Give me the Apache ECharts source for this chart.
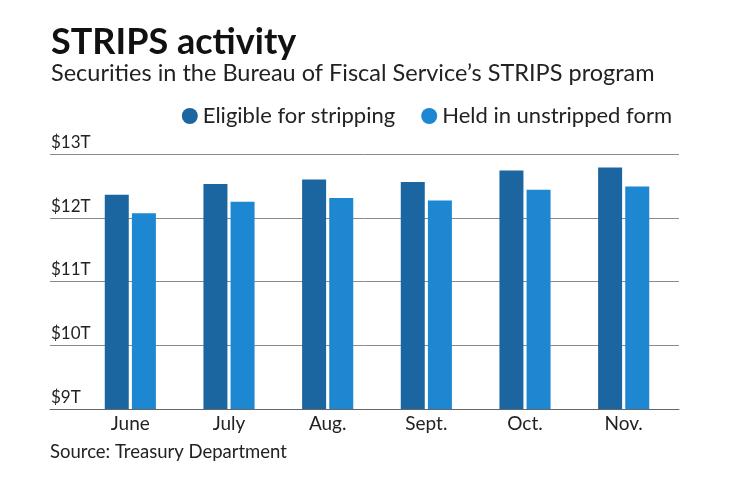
<!DOCTYPE html>
<html>
<head>
<meta charset="utf-8">
<script src="https://cdn.jsdelivr.net/npm/echarts@6/dist/echarts.min.js"></script>
<style>
  html, body { margin: 0; padding: 0; background: #fff; }
  #chart { width: 740px; height: 482px; }
</style>
</head>
<body>
<div id="chart"></div>
<script>
// data (trillions of dollars)
var months = ['June', 'July', 'Aug.', 'Sept.', 'Oct.', 'Nov.'];
var eligible = [12.36, 12.53, 12.60, 12.56, 12.74, 12.79];
var unstripped = [12.07, 12.25, 12.31, 12.27, 12.44, 12.49];
var seriesNames = ['Eligible for stripping', 'Held in unstripped form'];
var yMin = 9, yMax = 13, yStep = 1;

var FONT = 'Lato, "Noto Sans", sans-serif';
var DARK = '#1b66a0';
var LIGHT = '#1d87d2';

var myChart = echarts.init(document.getElementById('chart'), null, { renderer: 'canvas' });

myChart.setOption({
  animation: false,
  textStyle: { fontFamily: FONT },
  title: [
    {
      text: 'STRIPS activity',
      left: 51, top: 24, padding: 0,
      textStyle: { fontSize: 36, fontWeight: 'bold', color: '#111', fontFamily: FONT }
    },
    {
      text: 'Securities in the Bureau of Fiscal Service\u2019s STRIPS program',
      left: 51, top: 61, padding: 0,
      textStyle: { fontSize: 23.5, fontWeight: 'normal', color: '#222', fontFamily: FONT }
    },
    {
      text: 'Source: Treasury Department',
      left: 50, top: 443, padding: 0,
      textStyle: { fontSize: 18.5, fontWeight: 'normal', color: '#222', fontFamily: FONT }
    }
  ],
  legend: {
    right: 68, top: 105, padding: 0,
    icon: 'circle',
    itemWidth: 16, itemHeight: 16,
    itemGap: 26,
    textStyle: { fontSize: 22, color: '#222', fontFamily: FONT },
    data: seriesNames
  },
  // grid 0: full-width gridlines and baseline, grid 1: the bars
  grid: [
    { left: 50, right: 61, top: 154, height: 255 },
    { left: 81, right: 67, top: 154, height: 255 }
  ],
  xAxis: [
    {
      gridIndex: 0, type: 'value', min: 0, max: 1,
      axisLine: { show: true, lineStyle: { color: '#666', width: 1 } },
      axisTick: { show: false }, axisLabel: { show: false }, splitLine: { show: false }
    },
    {
      gridIndex: 1, type: 'category', data: months,
      axisLine: { show: false }, axisTick: { show: false },
      axisLabel: { fontSize: 19, color: '#222', margin: 5, fontFamily: FONT }
    }
  ],
  yAxis: [
    {
      gridIndex: 0, type: 'value', min: yMin, max: yMax, interval: yStep,
      axisLine: { show: false }, axisTick: { show: false },
      axisLabel: {
        inside: true, margin: 1, verticalAlign: 'bottom', padding: [0, 0, 3, 0],
        fontSize: 17, color: '#222', fontFamily: FONT,
        formatter: function (v) { return '$' + v + 'T'; }
      },
      splitLine: { lineStyle: { color: '#8a8a8a', width: 1 } }
    },
    {
      gridIndex: 1, type: 'value', min: yMin, max: yMax, interval: yStep,
      show: false, splitLine: { show: false }
    }
  ],
  series: [
    {
      name: seriesNames[0], type: 'bar', xAxisIndex: 1, yAxisIndex: 1,
      data: eligible, barWidth: 24, barGap: '13%',
      itemStyle: { color: DARK }
    },
    {
      name: seriesNames[1], type: 'bar', xAxisIndex: 1, yAxisIndex: 1,
      data: unstripped, barWidth: 24, barGap: '13%',
      itemStyle: { color: LIGHT }
    }
  ]
});
</script>
</body>
</html>
